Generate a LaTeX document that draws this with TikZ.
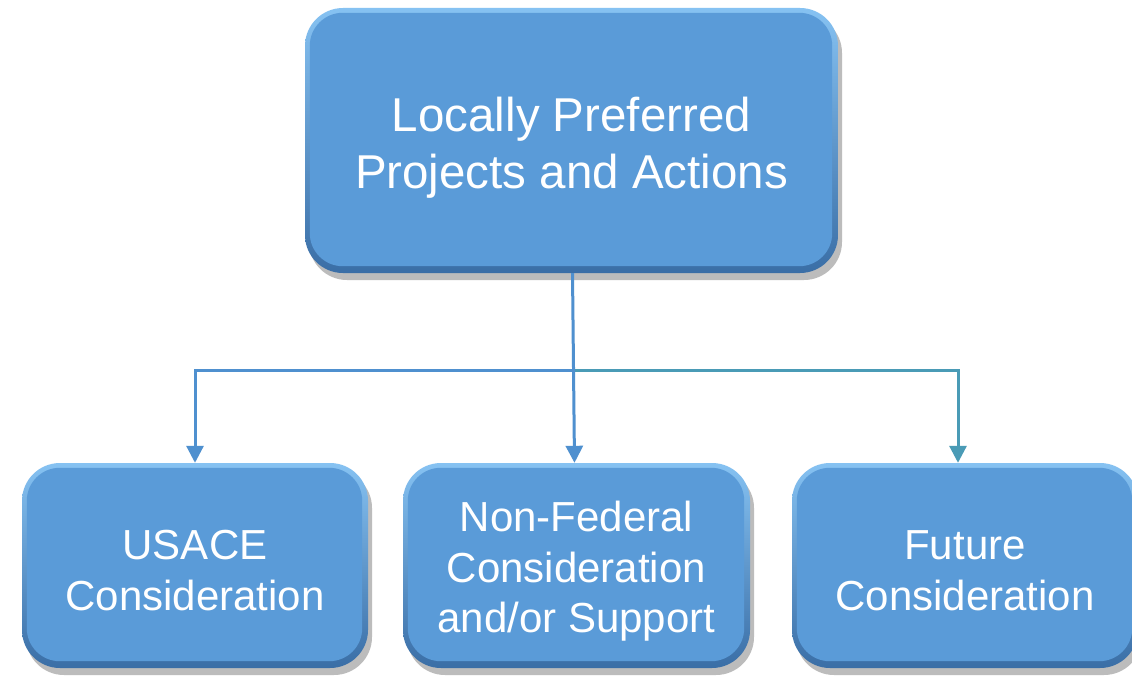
\documentclass[tikz,border=0pt]{standalone}
\usepackage{fontspec}
\setmainfont{Liberation Sans}
\usetikzlibrary{arrows.meta,shadows,positioning}
\definecolor{boxfill}{HTML}{5A9BD8}
\definecolor{boxdark}{HTML}{3A6EA6}
\definecolor{boxhi}{HTML}{86C2F2}
\definecolor{lineblue}{HTML}{4F90CF}
\definecolor{lineteal}{HTML}{4A9BB6}
\tikzset{
  bevelbox/.style={rounded corners=38pt, top color=boxhi, bottom color=boxdark, draw=none,
    inner sep=0pt,
    drop shadow={shadow xshift=4pt, shadow yshift=-7pt, opacity=0.35, fill=black!75}},
  innerface/.style={fill=boxfill, rounded corners=33pt},
  boxtext/.style={text=white, align=center, inner sep=0pt},
  topfont/.style={font=\fontsize{47.5}{57}\selectfont},
  botfont/.style={font=\fontsize{42}{50.5}\selectfont},
  conn/.style={line width=3pt, -{Triangle[length=17pt,width=17pt]}},
}
\begin{document}
\begin{tikzpicture}[x=1pt,y=-1pt]
\useasboundingbox[fill=white] (0,0) rectangle (1132,677);
\node[bevelbox, minimum width=533pt, minimum height=265pt] (top) at (571.5,140.5) {};
\node[bevelbox, minimum width=346pt, minimum height=205pt] (usace) at (195,565.5) {};
\node[bevelbox, minimum width=347pt, minimum height=205pt] (nonfed) at (576.5,565.5) {};
\node[bevelbox, minimum width=346pt, minimum height=205pt] (future) at (965,565.5) {};
\foreach \b in {top,usace,nonfed,future}
  \fill[innerface] ([shift={(5pt,-5pt)}]\b.north west) rectangle ([shift={(-6pt,7pt)}]\b.south east);
\node[boxtext, topfont] (topT) at ([yshift=-7pt]top.center)
  {Locally Preferred\\Projects and Actions};
\node[boxtext, botfont] (usaceT) at ([yshift=-5pt]usace.center) {USACE\\Consideration};
\node[boxtext, botfont] (nonfedT) at ([yshift=-6pt]nonfed.center)
  {Non-Federal\\Consideration\\and/or Support};
\node[boxtext, botfont] (futureT) at ([yshift=-5pt]future.center) {Future\\Consideration};
\coordinate (j) at (573,370);
\coordinate (fr) at ([xshift=-7pt]future.north);
\draw[conn, color=lineblue] (j) -| (usace.north);
\draw[line width=3pt, color=lineteal] (j) -| ([yshift=8pt]fr);
\draw[conn, color=lineteal] ([yshift=9pt]fr) -- (fr);
\draw[conn, color=lineblue] ([xshift=1pt]top.south) -- ([xshift=-2pt]nonfed.north);
\end{tikzpicture}
\end{document}
